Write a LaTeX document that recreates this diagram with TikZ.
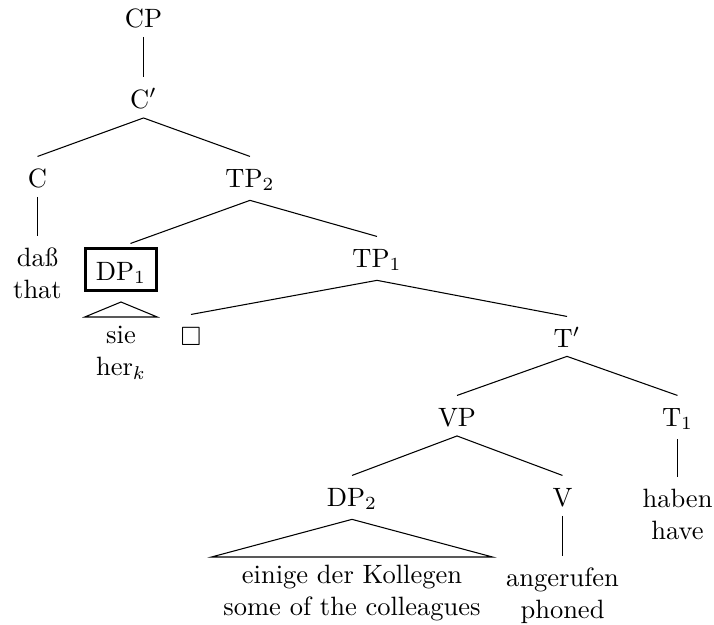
\documentclass[tikz,border=0pt]{standalone}
\usepackage{amssymb}
\usetikzlibrary{calc}
\newcommand{\twoline}[2]{\begin{tabular}[t]{@{}c@{}}#1\\#2\end{tabular}}
\tikzset{
  lbl/.style={anchor=base, text height=8pt},
  leaf/.style={anchor=north, text height=8pt},
  trileaf/.style={anchor=north, text height=8pt, inner ysep=1.8pt},
  boxed/.style={anchor=base, draw, line width=1pt, text height=8.5pt, text depth=0.5pt, inner sep=3.5pt, minimum width=26.6pt},
  branch/.style={line width=0.4pt},
}
\begin{document}
\begin{tikzpicture}[x=0.37736pt, y=-0.37736pt]
\useasboundingbox (0,0) rectangle (714,624);
% nodes
\node[lbl] (cp) at (143.5,27) {CP};
\node[lbl] (cbar) at (143.5,108) {C$'$};
\node[lbl] (c) at (37.5,187) {C};
\node[lbl] (tp2) at (250,187) {TP$_2$};
\node[leaf] (dass) at (37.5,236) {\twoline{daß}{that}};
\node[boxed] (dp1) at (121,280) {DP$_1$};
\node[trileaf, minimum width=27pt] (sie) at (121,317) {\twoline{sie}{her$_k$}};
\node[lbl] (sq) at (191,345) {$\square$};
\node[lbl] (tp1) at (377,267) {TP$_1$};
\node[lbl] (tbar) at (567,347) {T$'$};
\node[lbl] (vp) at (457,426) {VP};
\node[lbl] (t1) at (677.5,426) {T$_1$};
\node[lbl] (dp2) at (352,506) {DP$_2$};
\node[lbl] (v) at (562.5,506) {V};
\node[leaf] (haben) at (677.5,477) {\twoline{haben}{have}};
\node[trileaf, minimum width=105.7pt] (einige) at (352,557) {\twoline{einige der Kollegen}{some of the colleagues}};
\node[leaf] (angerufen) at (562.5,556) {\twoline{angerufen}{phoned}};
\coordinate (dp1apex) at ($(dp1.south)+(0,-3.8pt)$);
% branches
\draw[branch] (cp.south) -- (cbar.north);
\draw[branch] (cbar.south) -- (c.north);
\draw[branch] (cbar.south) -- (tp2.north);
\draw[branch] (c.south) -- (dass.north);
\draw[branch, shorten >=3.8pt] (tp2.south) -- (dp1.north);
\draw[branch] (tp2.south) -- (tp1.north);
\draw[branch] (dp1apex) -- (sie.north west) -- (sie.north east) -- cycle;
\draw[branch] (tp1.south) -- (sq.north);
\draw[branch] (tp1.south) -- (tbar.north);
\draw[branch] (tbar.south) -- (vp.north);
\draw[branch] (tbar.south) -- (t1.north);
\draw[branch] (vp.south) -- (dp2.north);
\draw[branch] (vp.south) -- (v.north);
\draw[branch] (t1.south) -- (haben.north);
\draw[branch] (dp2.south) -- (einige.north west) -- (einige.north east) -- cycle;
\draw[branch] (v.south) -- (angerufen.north);
\end{tikzpicture}
\end{document}
